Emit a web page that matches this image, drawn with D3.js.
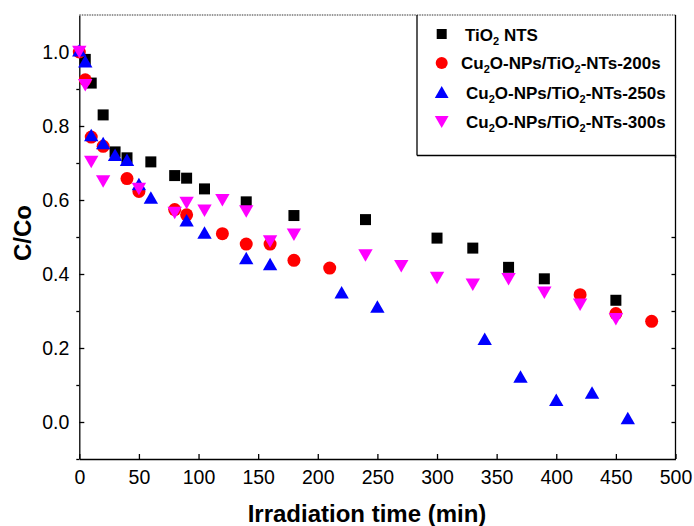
<!DOCTYPE html>
<html><head><meta charset="utf-8">
<script src="https://cdn.jsdelivr.net/npm/d3@7"></script>
<style>body{margin:0;background:#fff}svg{display:block}text{font-family:"Liberation Sans",Arial,sans-serif}</style>
</head><body><div id="chart"></div>
<script>
const tTiO2 = [5,10,20,30,40,60,80,90,105,140,180,240,300,330,360,390,450];
const yTiO2 = [0.98,0.916,0.83,0.73,0.714,0.703,0.666,0.659,0.63,0.595,0.558,0.547,0.497,0.47,0.418,0.387,0.329];
const t200 = [0,5,10,20,40,50,80,90,120,140,160,180,210,420,450,480];
const y200 = [1.0,0.925,0.77,0.745,0.658,0.623,0.574,0.56,0.509,0.481,0.481,0.437,0.416,0.344,0.293,0.272];
const t250 = [0,5,10,20,30,40,50,60,90,105,140,160,220,250,340,370,400,430,460];
const y250 = [1.005,0.975,0.776,0.754,0.722,0.709,0.643,0.607,0.545,0.512,0.443,0.427,0.351,0.312,0.225,0.123,0.06,0.08,0.011];
const t300 = [0,5,10,20,50,80,90,105,120,140,160,180,240,270,300,330,360,390,420,450];
const y300 = [1.0,0.91,0.703,0.65,0.63,0.565,0.592,0.571,0.599,0.569,0.488,0.506,0.45,0.421,0.389,0.371,0.386,0.349,0.317,0.278];
const seriesNames = ["TiO2 NTS","Cu2O-NPs/TiO2-NTs-200s","Cu2O-NPs/TiO2-NTs-250s","Cu2O-NPs/TiO2-NTs-300s"];
const xTicks = [0,50,100,150,200,250,300,350,400,450,500];
const yTicks = [0.0,0.2,0.4,0.6,0.8,1.0];

const W=694,H=526;
const svg=d3.select("#chart").append("svg").attr("width",W).attr("height",H);
const x=d3.scaleLinear().domain([0,500]).range([79.3,675.5]);
const y=d3.scaleLinear().domain([-0.1,1.1]).range([459,15]);

const gx=svg.append("g").attr("transform",`translate(0,${y(-0.1)})`)
  .call(d3.axisBottom(x).tickValues(xTicks).tickSizeInner(-5).tickSizeOuter(0).tickPadding(11).tickFormat(d3.format("d")));
const gy=svg.append("g").attr("transform",`translate(${x(0)},0)`)
  .call(d3.axisLeft(y).tickValues(yTicks).tickSizeInner(-5).tickSizeOuter(0).tickPadding(10).tickFormat(d3.format(".1f")));
const gyMinor=svg.append("g").attr("transform",`translate(${x(0)},0)`)
  .call(d3.axisLeft(y).tickValues([-0.1,0.1,0.3,0.5,0.7,0.9]).tickSize(3).tickFormat(""));
const gr=svg.append("g").attr("transform",`translate(${x(500)},0)`)
  .call(d3.axisRight(y).tickValues(d3.range(0,6).map(i=>i/10)).tickSize(-4).tickFormat(""));
[gx,gy,gyMinor,gr].forEach(g=>{g.selectAll("path,line").attr("stroke","#000").attr("stroke-width",1.3);});
gr.select(".domain").remove();
gyMinor.select(".domain").remove();
gx.selectAll("text").attr("font-size",19.5).attr("fill","#000").style("font-family","'Liberation Sans',Arial");
gy.selectAll("text").attr("font-size",19.5).attr("fill","#000").style("font-family","'Liberation Sans',Arial");
svg.append("line").attr("x1",x(500)).attr("x2",x(500)).attr("y1",155).attr("y2",y(-0.1)).attr("stroke","#000").attr("stroke-width",1.3);
svg.append("line").attr("x1",x(0)).attr("x2",x(500)).attr("y1",y(1.1)).attr("y2",y(1.1)).attr("stroke","#777").attr("stroke-width",1.5).attr("stroke-dasharray","1.5,1");

function shape(type,s){
  if(type==="square") return `M${-s/2},${-s/2}h${s}v${s}h${-s}Z`;
  if(type==="circle") return `M${s/2},0A${s/2},${s/2} 0 1,1 ${-s/2},0A${s/2},${s/2} 0 1,1 ${s/2},0Z`;
  const w=s*1.15,h=s;
  if(type==="up") return `M0,${-h/2}L${w/2},${h/2}L${-w/2},${h/2}Z`;
  return `M0,${h/2}L${w/2},${-h/2}L${-w/2},${-h/2}Z`;
}
const series=[
  {t:tTiO2,v:yTiO2,type:"square",size:11,color:"#000"},
  {t:t200,v:y200,type:"circle",size:13,color:"#ff0000"},
  {t:t250,v:y250,type:"up",size:12.5,color:"#0000ff"},
  {t:t300,v:y300,type:"down",size:12.5,color:"#ff00ff"}
];
const plot=svg.append("g");
series.forEach(s=>{
  plot.selectAll(null).data(s.t.map((t,i)=>[t,s.v[i]])).enter().append("path")
    .attr("transform",d=>`translate(${x(d[0])},${y(d[1])})`)
    .attr("d",shape(s.type,s.size)).attr("fill",s.color);
});

const lg=svg.append("g");
lg.append("line").attr("x1",417).attr("x2",417).attr("y1",15).attr("y2",155.5).attr("stroke","#000").attr("stroke-width",1.3);
lg.append("line").attr("x1",417).attr("x2",x(500)).attr("y1",155.5).attr("y2",155.5).attr("stroke","#000").attr("stroke-width",1.3);
lg.append("line").attr("x1",x(500)).attr("x2",x(500)).attr("y1",15).attr("y2",158).attr("stroke","#000").attr("stroke-width",1.3);
const legY=[34,63,92,122], baseY=[40.7,69.3,99,128.3], textX=[465,461,466,466];
series.forEach((s,i)=>{
  lg.append("path").attr("transform",`translate(441.7,${legY[i]})`).attr("d",shape(s.type,i===0?10:12)).attr("fill",s.color);
  const tx=lg.append("text").attr("x",textX[i]).attr("y",baseY[i]).attr("font-size",17).attr("font-weight","bold").attr("fill","#000");
  const parts=seriesNames[i].split(/(?<=(?:Cu|TiO))2/);
  parts.forEach((p,k)=>{
    tx.append("tspan").text(p).attr("dy",k>0?-4:null);
    if(k<parts.length-1) tx.append("tspan").text("2").attr("font-size",11).attr("dy",4);
  });
});

svg.append("text").attr("x",367).attr("y",522).attr("text-anchor","middle").attr("font-size",24).attr("font-weight","bold").text("Irradiation time (min)");
svg.append("text").attr("transform","translate(31,233) rotate(-90)").attr("text-anchor","middle").attr("font-size",24).attr("font-weight","bold").text("C/Co");
</script></body></html>
